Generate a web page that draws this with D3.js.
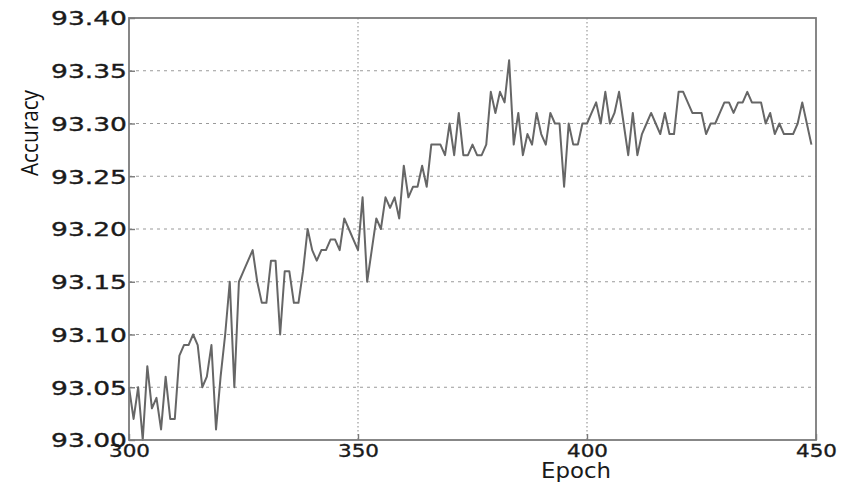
<!DOCTYPE html>
<html>
<head>
<meta charset="utf-8">
<script src="https://cdn.jsdelivr.net/npm/d3@7"></script>
<style>
  html, body { margin: 0; padding: 0; background: #fff; }
  svg { display: block; }
</style>
</head>
<body>
<svg id="chart" width="841" height="484"></svg>
<script>
// ---- data ----
const epochs = d3.range(300, 450);
const accuracy = [
  93.05, 93.02, 93.05, 93.00, 93.07, 93.03, 93.04, 93.01, 93.06, 93.02, // 300-309
  93.02, 93.08, 93.09, 93.09, 93.10, 93.09, 93.05, 93.06, 93.09, 93.01, // 310-319
  93.06, 93.10, 93.15, 93.05, 93.15, 93.16, 93.17, 93.18, 93.15, 93.13, // 320-329
  93.13, 93.17, 93.17, 93.10, 93.16, 93.16, 93.13, 93.13, 93.16, 93.20, // 330-339
  93.18, 93.17, 93.18, 93.18, 93.19, 93.19, 93.18, 93.21, 93.20, 93.19, // 340-349
  93.18, 93.23, 93.15, 93.18, 93.21, 93.20, 93.23, 93.22, 93.23, 93.21, // 350-359
  93.26, 93.23, 93.24, 93.24, 93.26, 93.24, 93.28, 93.28, 93.28, 93.27, // 360-369
  93.30, 93.27, 93.31, 93.27, 93.27, 93.28, 93.27, 93.27, 93.28, 93.33, // 370-379
  93.31, 93.33, 93.32, 93.36, 93.28, 93.31, 93.27, 93.29, 93.28, 93.31, // 380-389
  93.29, 93.28, 93.31, 93.30, 93.30, 93.24, 93.30, 93.28, 93.28, 93.30, // 390-399
  93.30, 93.31, 93.32, 93.30, 93.33, 93.30, 93.31, 93.33, 93.30, 93.27, // 400-409
  93.31, 93.27, 93.29, 93.30, 93.31, 93.30, 93.29, 93.31, 93.29, 93.29, // 410-419
  93.33, 93.33, 93.32, 93.31, 93.31, 93.31, 93.29, 93.30, 93.30, 93.31, // 420-429
  93.32, 93.32, 93.31, 93.32, 93.32, 93.33, 93.32, 93.32, 93.32, 93.30, // 430-439
  93.31, 93.29, 93.30, 93.29, 93.29, 93.29, 93.30, 93.32, 93.30, 93.28  // 440-449
];
const xTicks = [300, 350, 400, 450];
const yTicks = [93.00, 93.05, 93.10, 93.15, 93.20, 93.25, 93.30, 93.35, 93.40];
const xGrid = [350, 400];
const yGrid = [93.05, 93.10, 93.15, 93.20, 93.25, 93.30, 93.35];
const xLabel = "Epoch";
const yLabel = "Accuracy";

// ---- layout ----
const L = 129, R = 816, T = 18, B = 440;
const svg = d3.select("#chart");
const x = d3.scaleLinear().domain([300, 450]).range([L, R]);
const y = d3.scaleLinear().domain([93.00, 93.40]).range([B, T]);

// grid
svg.append("g").selectAll("line").data(yGrid).join("line")
  .attr("x1", L).attr("x2", R)
  .attr("y1", d => y(d)).attr("y2", d => y(d))
  .attr("stroke", "#9a9a9a").attr("stroke-width", 1.2)
  .attr("stroke-dasharray", "3,4");
svg.append("g").selectAll("line").data(xGrid).join("line")
  .attr("x1", d => x(d)).attr("x2", d => x(d))
  .attr("y1", T).attr("y2", B)
  .attr("stroke", "#9a9a9a").attr("stroke-width", 1.2)
  .attr("stroke-dasharray", "1.5,2.5");

// line
const data = epochs.map((e, i) => [e, accuracy[i]]);
svg.append("path").datum(data)
  .attr("fill", "none")
  .attr("stroke", "#666")
  .attr("stroke-width", 2)
  .attr("stroke-linejoin", "round")
  .attr("d", d3.line().x(d => x(d[0])).y(d => y(d[1])));

// frame
svg.append("rect").attr("x", L).attr("y", T).attr("width", R - L).attr("height", B - T)
  .attr("fill", "none").attr("stroke", "#7a7a7a").attr("stroke-width", 1.8);

// axes
const yAxis = d3.axisLeft(y).tickValues(yTicks).tickFormat(d3.format(".2f")).tickSizeInner(-6).tickSizeOuter(0).tickPadding(2);
const gy = svg.append("g").attr("transform", `translate(${L},0)`).call(yAxis);
gy.select(".domain").remove();
gy.selectAll(".tick line").attr("stroke", "#7a7a7a").attr("stroke-width", 1.4);
gy.selectAll(".tick text")
  .attr("font-family", "DejaVu Sans, sans-serif").attr("font-size", 19)
  .attr("fill", "#1a1a1a").attr("stroke", "#1a1a1a").attr("stroke-width", 0.35)
  .attr("dy", "0.36em")
  .attr("textLength", 76).attr("lengthAdjust", "spacingAndGlyphs");

const xAxis = d3.axisBottom(x).tickValues(xTicks).tickFormat(d3.format("d")).tickSizeInner(-6).tickSizeOuter(0).tickPadding(3);
const gx = svg.append("g").attr("transform", `translate(0,${B})`).call(xAxis);
gx.select(".domain").remove();
gx.selectAll(".tick line").attr("stroke", "#7a7a7a").attr("stroke-width", 1.4);
gx.selectAll(".tick text")
  .attr("font-family", "DejaVu Sans, sans-serif").attr("font-size", 18)
  .attr("fill", "#1a1a1a").attr("stroke", "#1a1a1a").attr("stroke-width", 0.35)
  .attr("dy", 14)
  .attr("textLength", 41).attr("lengthAdjust", "spacingAndGlyphs");

// axis labels
svg.append("text").text(xLabel)
  .attr("x", 576).attr("y", 478)
  .attr("text-anchor", "middle")
  .attr("font-family", "DejaVu Sans, sans-serif").attr("font-size", 21)
  .attr("fill", "#1a1a1a")
  .attr("textLength", 70).attr("lengthAdjust", "spacingAndGlyphs");
svg.append("text").text(yLabel)
  .attr("transform", "translate(38,133) rotate(-90)")
  .attr("text-anchor", "middle")
  .attr("font-family", "Open Sans, sans-serif").attr("font-size", 24)
  .attr("textLength", 86).attr("lengthAdjust", "spacingAndGlyphs")
  .attr("fill", "#111");
</script>
</body>
</html>
